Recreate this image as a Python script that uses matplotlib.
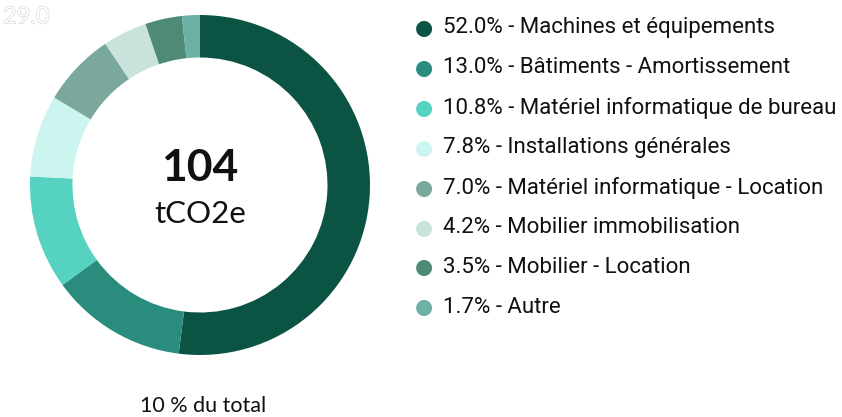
import matplotlib.pyplot as plt
import matplotlib.patheffects as pe

''' DATA '''
labels = ["Machines et équipements", "Bâtiments - Amortissement",
          "Matériel informatique de bureau", "Installations générales",
          "Matériel informatique - Location", "Mobilier immobilisation",
          "Mobilier - Location", "Autre"]
shares = [52.0, 13.0, 10.8, 7.8, 7.0, 4.2, 3.5, 1.7]
colors = ["#0b5443", "#2a8c7c", "#55d2c0", "#cdf5ef",
          "#7ba89c", "#c9e3dc", "#4f8a79", "#6cb0a6"]
total_value = "104"
unit = "tCO2e"
footer = "10 % du total"
ghost_label = "29.0"

''' FIGURE '''
W, H = 842, 417
fig = plt.figure(figsize=(W / 100, H / 100), dpi=100)

# donut centred at (200, 185) px, outer radius 170 px
cx, cy, r = 200, 185, 170
ax = fig.add_axes([(cx - r) / W, (H - cy - r) / H, 2 * r / W, 2 * r / H])
ax.pie(shares, colors=colors, startangle=90, counterclock=False,
       wedgeprops=dict(width=0.25, linewidth=0))
ax.set_aspect("equal")
ax.set_xlim(-1, 1)
ax.set_ylim(-1, 1)
ax.axis("off")

ax.text(0, 0.1, total_value, ha="center", va="center", fontsize=32,
        fontweight="bold", family="Lato", color="#111111")
ax.text(0, -0.17, unit, ha="center", va="center", fontsize=22.5,
        family="Lato", color="#111111")

# faint ghost label top-left
t = fig.text(3 / W, 1 - 17 / H, ghost_label, ha="left", va="center",
             fontsize=17, color="white", family="Lato")
t.set_path_effects([pe.withStroke(linewidth=0.7, foreground="#cccccc")])

# legend rows
y0, dy = 28, 39.9
for i, (lab, val, col) in enumerate(zip(labels, shares, colors)):
    y = 1 - (y0 + i * dy) / H
    fig.text(424 / W, y, "\u25CF", ha="center", va="center", fontsize=15,
             color=col, family="DejaVu Sans")
    fig.text(443 / W, y, f"{val:.1f}% - {lab}", ha="left", va="center",
             fontsize=16, family="Roboto", color="#111111")

fig.text(203 / W, 1 - 406 / H, footer, ha="center", va="center",
         fontsize=15.5, family="Lato", color="#111111")

fig.savefig("out.png", dpi=100)
